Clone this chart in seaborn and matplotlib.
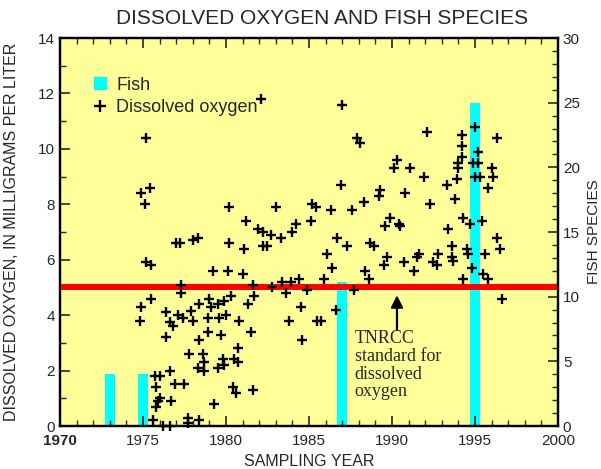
import matplotlib
matplotlib.use("Agg")
import matplotlib.pyplot as plt
import seaborn as sns
import pandas as pd
from matplotlib.lines import Line2D
from matplotlib.ticker import MultipleLocator

# Fish species counts (right axis)
fish_year = [1973, 1975, 1987, 1995]
fish_count = [4, 4, 11.1, 25]

# Dissolved oxygen samples, mg/L (left axis)
do_year = [
    1975.2, 1975.4, 1974.9, 1975.1, 1980.2, 1981.2, 1981.9, 1982.2, 1977.0, 1977.2,
    1978.0, 1978.3, 1980.2, 1981.1, 1982.2, 1982.5, 1975.2, 1975.5, 1979.2, 1980.1,
    1981.0, 1977.3, 1981.6, 1977.3, 1975.5, 1981.7, 1974.9, 1978.4, 1979.0, 1979.1,
    1979.5, 1979.9, 1980.3, 1981.3, 1976.4, 1977.1, 1977.4, 1978.0, 1977.9, 1978.9,
    1979.6, 1980.0, 1980.8, 1974.8, 1976.6, 1976.8, 1976.4, 1978.4, 1978.9, 1979.7,
    1981.5, 1980.7, 1977.8, 1978.6, 1978.7, 1978.3, 1978.7, 1979.5, 1979.8, 1979.9,
    1980.5, 1980.7, 1976.6, 1975.7, 1976.0, 1975.8, 1976.9, 1977.5, 1976.0, 1975.9,
    1975.8, 1976.7, 1979.3, 1980.4, 1980.6, 1981.6, 1975.6, 1977.7, 1977.7, 1978.4,
    1976.2, 1976.6, 1982.1,
    1987.0, 1987.9, 1988.1, 1990.1, 1990.3, 1986.9, 1989.3, 1989.2, 1988.3, 1983.0,
    1985.2, 1985.4, 1986.3, 1987.6, 1989.9, 1989.6, 1985.1, 1984.2, 1984.0, 1982.7,
    1983.3, 1986.7, 1987.3, 1988.7, 1988.9, 1986.1, 1989.7, 1986.4, 1989.5, 1988.4,
    1988.6, 1982.8, 1983.4, 1983.9, 1984.4, 1983.6, 1984.9, 1985.9, 1987.7, 1984.5,
    1986.6, 1983.8, 1985.5, 1985.7, 1984.6,
    1992.1, 1994.2, 1995.0, 1996.3, 1994.2, 1995.2, 1994.2, 1991.1, 1994.0, 1994.0,
    1994.9, 1995.2, 1996.0, 1991.9, 1995.0, 1995.3, 1996.1, 1993.9, 1993.3, 1995.8,
    1990.8, 1993.8, 1992.3, 1990.5, 1990.4, 1994.3, 1994.7, 1995.4, 1993.4, 1996.3,
    1993.6, 1994.5, 1996.5, 1994.6, 1995.6, 1991.6, 1992.8, 1993.6, 1993.7, 1992.5,
    1992.7, 1990.7, 1991.5, 1991.3, 1994.3, 1994.8, 1995.5, 1995.8, 1996.6,
]
do_mgl = [
    10.4, 8.6, 8.4, 8.0, 7.9, 7.4, 7.1, 7.0, 6.6, 6.6,
    6.7, 6.8, 6.6, 6.4, 6.5, 6.5, 5.9, 5.8, 5.6, 5.6,
    5.5, 5.1, 5.1, 4.8, 4.6, 4.7, 4.3, 4.4, 4.6, 4.3,
    4.4, 4.5, 4.7, 4.4, 4.1, 4.0, 3.9, 3.8, 4.15, 3.9,
    3.9, 4.0, 3.8, 3.8, 3.75, 3.6, 3.2, 3.1, 3.4, 3.3,
    3.4, 2.8, 2.6, 2.6, 2.3, 2.1, 2.0, 2.1, 2.4, 2.2,
    2.4, 2.3, 2.0, 1.8, 1.8, 1.4, 1.5, 1.5, 1.0, 0.9,
    0.7, 0.9, 0.8, 1.4, 1.2, 1.3, 0.2, 0.3, 0.1, 0.2,
    0.0, 0.0, 11.8,
    11.6, 10.4, 10.2, 9.3, 9.6, 8.7, 8.5, 8.3, 8.1, 7.9,
    8.0, 7.9, 7.8, 7.8, 7.5, 7.2, 7.4, 7.3, 7.0, 6.9,
    6.8, 6.8, 6.5, 6.6, 6.5, 6.2, 6.1, 5.7, 5.8, 5.6,
    5.3, 5.0, 5.2, 5.2, 5.3, 4.8, 4.9, 5.3, 4.9, 4.3,
    4.2, 3.8, 3.8, 3.8, 3.1,
    10.6, 10.5, 10.8, 10.4, 10.1, 9.9, 9.7, 9.3, 9.5, 9.3,
    9.5, 9.5, 9.3, 9.0, 9.0, 9.0, 9.0, 8.9, 8.7, 8.6,
    8.4, 8.2, 8.0, 7.2, 7.3, 7.5, 7.3, 7.4, 7.1, 6.8,
    6.5, 6.4, 6.4, 6.2, 6.2, 6.2, 6.2, 6.1, 5.95, 5.9,
    5.8, 5.9, 6.1, 5.6, 5.3, 5.7, 5.5, 5.3, 4.6,
]

tnrcc_standard = 5.0
x_ticks = [1970, 1975, 1980, 1985, 1990, 1995, 2000]
x_tick_labels = ['1970', '1975', '1980', '1985', '1990', '1995', '2000']

sns.set_style("ticks")
plt.rcParams['font.family'] = ['Liberation Sans', 'DejaVu Sans']

fig = plt.figure(figsize=(6.01, 4.69), dpi=100)
ax = fig.add_axes([60 / 601, 43 / 469, 498 / 601, 388 / 469])
ax2 = ax.twinx()

# yellow background lives on the twin so the bars sit under the points
ax2.patch.set_visible(True)
ax2.set_facecolor('#FFFF99')
ax.set_zorder(ax2.get_zorder() + 1)
ax.patch.set_visible(False)

fish = pd.DataFrame({'year': fish_year, 'species': fish_count})
sns.barplot(data=fish, x='year', y='species', native_scale=True, color='#00FFFF',
            saturation=1, width=0.3, edgecolor='none', ax=ax2)

ax.axhline(tnrcc_standard, color='#FF0000', lw=4.3, zorder=2)

do = pd.DataFrame({'year': do_year, 'oxygen': do_mgl})
sns.scatterplot(data=do, x='year', y='oxygen', marker='+', color='black', s=60,
                linewidth=1.7, ax=ax, zorder=3, clip_on=False)

ax.set_xlim(1970, 2000)
ax.set_ylim(0, 14)
ax2.set_ylim(0, 30)

ax.set_xticks(x_ticks)
ax.set_xticklabels(x_tick_labels)
ax.get_xticklabels()[0].set_fontweight('bold')
ax.xaxis.set_minor_locator(MultipleLocator(1))
ax.yaxis.set_major_locator(MultipleLocator(2))
ax.yaxis.set_minor_locator(MultipleLocator(1))
ax2.yaxis.set_major_locator(MultipleLocator(5))
ax2.yaxis.set_minor_locator(MultipleLocator(1))

ax.tick_params(axis='x', which='both', direction='in', top=True, labelsize=11, pad=6)
ax.tick_params(axis='y', which='both', direction='in', left=True, right=False, labelsize=11)
ax2.tick_params(axis='y', which='both', direction='in', right=True, labelsize=11)
for a in (ax, ax2):
    a.tick_params(which='major', length=7, width=1.2)
    a.tick_params(which='minor', length=4, width=1.0)
    for sp in a.spines.values():
        sp.set_visible(True)
        sp.set_linewidth(1.6)
        sp.set_color('black')

ax.set_xlabel('SAMPLING YEAR', fontsize=11.5)
ax.xaxis.set_label_coords(0.5, -0.072)
ax.set_ylabel('DISSOLVED OXYGEN, IN MILLIGRAMS PER LITER', fontsize=11.5)
ax.yaxis.set_label_coords(-0.082, 0.5)
ax2.set_ylabel('FISH SPECIES', fontsize=11)
ax2.yaxis.set_label_coords(1.058, 0.5)

fig.text(0.536, 1 - 18 / 469, 'DISSOLVED OXYGEN AND FISH SPECIES', ha='center',
         va='center', fontsize=15)

# standard annotation
ax.annotate('', xy=(1990.3, 4.82), xytext=(1990.3, 3.36),
            arrowprops=dict(arrowstyle='-|>', color='black', lw=1.6, mutation_scale=18))
ax.text(1987.75, 3.45, 'TNRCC\nstandard for\ndissolved\noxygen', va='top', ha='left',
        fontsize=13, family=['Liberation Serif', 'DejaVu Serif'], linespacing=1.05)

handles = [
    Line2D([], [], marker='s', color='#00FFFF', linestyle='none', markersize=9),
    Line2D([], [], marker='+', color='black', linestyle='none', markersize=8, markeredgewidth=1.7),
]
ax.legend(handles, ['Fish', 'Dissolved oxygen'], loc='upper left',
          bbox_to_anchor=(0.066, 0.9), frameon=False, fontsize=13, borderpad=0,
          borderaxespad=0, handlelength=0.8, handletextpad=0.5, labelspacing=0.3)

fig.savefig('out.png', dpi=100)
